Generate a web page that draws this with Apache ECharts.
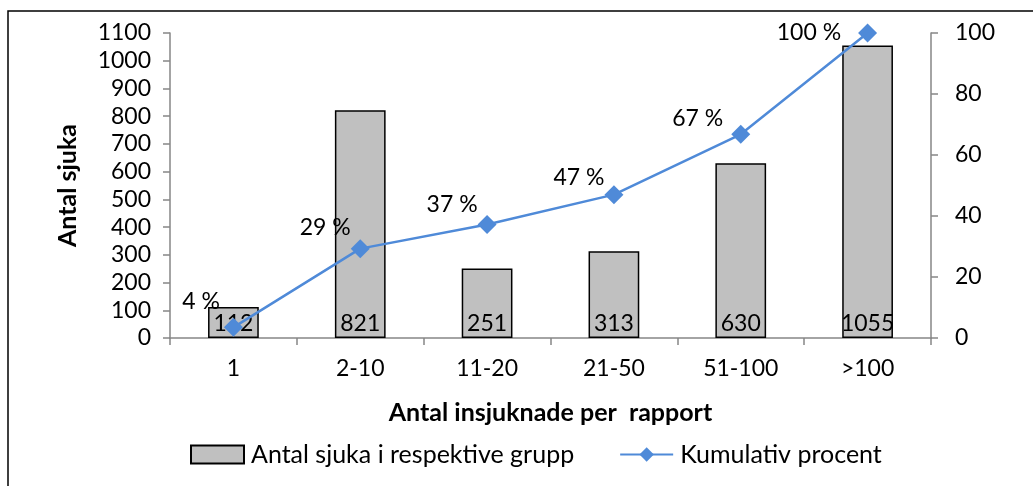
<!DOCTYPE html>
<html>
<head>
<meta charset="utf-8">
<script src="https://cdn.jsdelivr.net/npm/echarts@6/dist/echarts.min.js"></script>
<style>
  html, body { margin: 0; padding: 0; background: #fff; }
  #chart { width: 1033px; height: 486px; }
</style>
</head>
<body>
<div id="chart"></div>
<script>
  // data
  var categories = ['1', '2-10', '11-20', '21-50', '51-100', '>100'];
  var sickCounts = [112, 821, 251, 313, 630, 1055];
  var cumulativePct = [3.5, 29.3, 37.2, 47.0, 66.8, 100];
  var leftTicks = { min: 0, max: 1100, interval: 100 };
  var rightTicks = { min: 0, max: 100, interval: 20 };

  var font = 'Lato, "Open Sans", sans-serif';
  var axisGrey = '#868686';
  var lineBlue = '#4F8AD8';
  // where Excel put each percent label, relative to its marker
  var pctLabelShift = [[-4, -26], [0, -21], [0, -20], [0, -17], [-8, -16], [-17, 0]];

  var myChart = echarts.init(document.getElementById('chart'));
  var option = {
    animation: false,
    textStyle: { fontFamily: font, color: '#000' },
    graphic: [{
      type: 'rect',
      shape: { x: 8, y: 11, width: 1040, height: 520 },
      style: { fill: 'none', stroke: '#000', lineWidth: 1.5 },
      silent: true
    }],
    grid: { left: 170, right: 102, top: 33, bottom: 148 },
    legend: {
      bottom: 14,
      left: 185,
      itemGap: 45,
      itemWidth: 53,
      itemHeight: 18,
      textStyle: { fontFamily: font, fontSize: 25, color: '#000', padding: [0, 0, 0, 2] },
      data: [
        { name: 'Antal sjuka i respektive grupp', icon: 'rect' },
        { name: 'Kumulativ procent' }
      ]
    },
    xAxis: {
      type: 'category',
      data: categories,
      name: 'Antal insjuknade per  rapport',
      nameLocation: 'middle',
      nameGap: 62,
      nameTextStyle: { fontFamily: font, fontSize: 25, fontWeight: 'bold', color: '#000' },
      axisLine: { lineStyle: { color: axisGrey, width: 1.5 } },
      axisTick: { show: true, length: 7, lineStyle: { color: axisGrey, width: 1.5 } },
      axisLabel: { fontFamily: font, fontSize: 23, color: '#000', margin: 19 }
    },
    yAxis: [{
      type: 'value',
      min: leftTicks.min, max: leftTicks.max, interval: leftTicks.interval,
      name: 'Antal sjuka',
      nameLocation: 'middle',
      nameGap: 90,
      nameTextStyle: { fontFamily: font, fontSize: 25, fontWeight: 'bold', color: '#000' },
      axisLine: { show: true, lineStyle: { color: axisGrey, width: 1.5 } },
      axisTick: { show: true, length: 7, lineStyle: { color: axisGrey, width: 1.5 } },
      splitLine: { show: false },
      axisLabel: {
        fontFamily: font, fontSize: 23, color: '#000', margin: 19,
        formatter: function (v) { return String(v); }
      }
    }, {
      type: 'value',
      min: rightTicks.min, max: rightTicks.max, interval: rightTicks.interval,
      position: 'right',
      axisLine: { show: true, lineStyle: { color: axisGrey, width: 1.5 } },
      axisTick: { show: true, length: 7, lineStyle: { color: axisGrey, width: 1.5 } },
      splitLine: { show: false },
      axisLabel: { fontFamily: font, fontSize: 23, color: '#000', margin: 24 }
    }],
    series: [{
      name: 'Antal sjuka i respektive grupp',
      type: 'bar',
      data: sickCounts,
      barWidth: '40%',
      itemStyle: { color: '#C0C0C0', borderColor: '#000', borderWidth: 1.5 },
      label: {
        show: true,
        position: 'insideBottom',
        distance: 3,
        fontFamily: font,
        fontSize: 23,
        color: '#000'
      }
    }, {
      name: 'Kumulativ procent',
      type: 'line',
      yAxisIndex: 1,
      data: cumulativePct.map(function (v, i) {
        return { value: v, label: { offset: pctLabelShift[i] } };
      }),
      symbol: 'diamond',
      symbolSize: 19,
      lineStyle: { color: lineBlue, width: 2.5 },
      itemStyle: { color: lineBlue },
      label: {
        show: true,
        position: 'left',
        distance: 0,
        fontFamily: font,
        fontSize: 23,
        color: '#000',
        formatter: function (p) { return Math.round(p.value) + ' %'; }
      }
    }]
  };
  myChart.setOption(option);
  window.addEventListener('resize', myChart.resize);
</script>
</body>
</html>
